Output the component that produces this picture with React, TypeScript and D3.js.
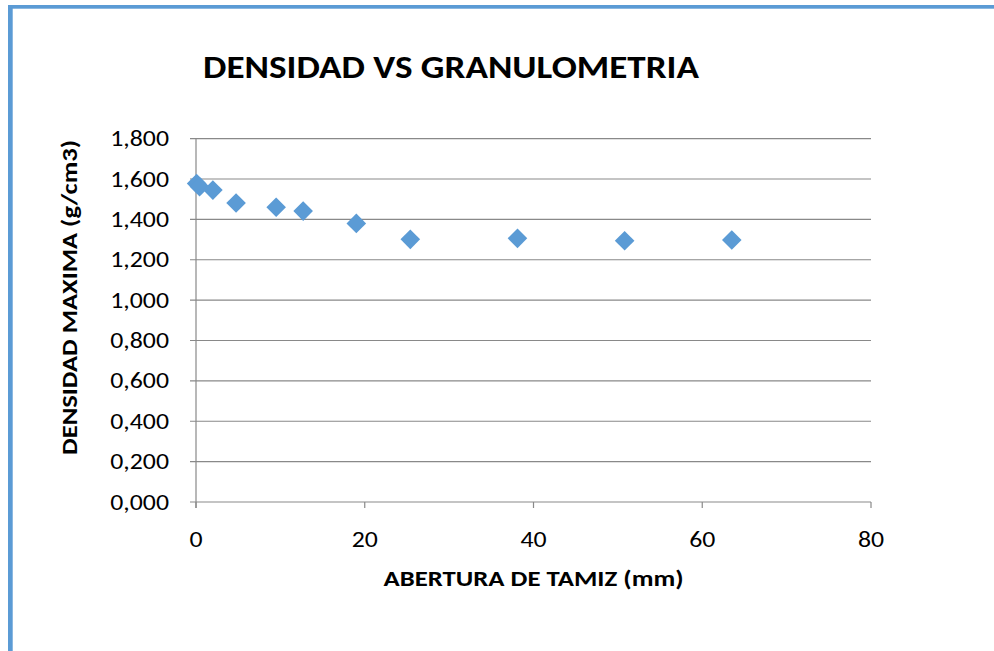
import React from "react";
import * as d3 from "d3";

const aberturaMm = [0.075, 0.425, 2.0, 4.75, 9.5, 12.7, 19.0, 25.4, 38.1, 50.8, 63.5];
const densidadMax = [1577, 1562, 1545, 1481, 1460, 1441, 1380, 1301, 1306, 1294, 1298];
const yTicks = [0, 200, 400, 600, 800, 1000, 1200, 1400, 1600, 1800];
const xTicks = [0, 20, 40, 60, 80];

const W = 994;
const H = 651;
const left = 196;
const right = 871;
const top = 138.6;
const bottom = 502;
const BLUE = "#5B9BD5";
const GRID = "#898989";
const FONT = "Carlito, Calibri, 'Open Sans', sans-serif";
const SX = 1.2;

const fmt = (v: number) => {
  const s = d3.format(",.3f")(v / 1000);
  return s.replace(".", ",");
};

export default function App() {
  const x = d3.scaleLinear().domain([0, 80]).range([left, right]);
  const y = d3.scaleLinear().domain([0, 1800]).range([bottom, top]);
  const r = 9.8;
  const diamond = (cx: number, cy: number) =>
    `M${cx},${cy - r}L${cx + r},${cy}L${cx},${cy + r}L${cx - r},${cy}Z`;

  return (
    <svg width={W} height={H} style={{ position: "absolute", left: 0, top: 0, background: "#fff" }}>
      <rect x={0} y={0} width={W} height={H} fill="#fff" />
      <rect x={8} y={5} width={4.7} height={H - 5} fill={BLUE} />
      <rect x={8} y={5} width={W - 8} height={3.7} fill={BLUE} />

      <text x={451} y={78} textAnchor="middle" fontFamily={FONT} fontWeight="bold" fontSize={33}
        textLength={496} lengthAdjust="spacingAndGlyphs" fill="#000">
        DENSIDAD VS GRANULOMETRIA
      </text>

      {yTicks.map((t) => (
        <g key={"y" + t}>
          <line x1={left - 6} x2={right} y1={y(t)} y2={y(t)} stroke={GRID} strokeWidth={1.2} />
          <text transform={`translate(169,${y(t)}) scale(${SX},1)`} dy="0.35em" textAnchor="end"
            fontFamily={FONT} fontSize={21.5} fill="#000">
            {fmt(t)}
          </text>
        </g>
      ))}
      <line x1={left} x2={left} y1={top} y2={bottom + 6} stroke={GRID} strokeWidth={1.2} />
      {xTicks.map((t) => (
        <g key={"x" + t}>
          <line x1={x(t)} x2={x(t)} y1={bottom} y2={bottom + 6} stroke={GRID} strokeWidth={1.2} />
          <text transform={`translate(${x(t)},547) scale(${SX},1)`} textAnchor="middle"
            fontFamily={FONT} fontSize={21.5} fill="#000">
            {t}
          </text>
        </g>
      ))}

      {aberturaMm.map((v, i) => (
        <path key={"p" + i} d={diamond(x(v), y(densidadMax[i]))} fill={BLUE} />
      ))}

      <text x={533.5} y={586} textAnchor="middle" fontFamily={FONT} fontWeight="bold" fontSize={21.5}
        textLength={300} lengthAdjust="spacingAndGlyphs" fill="#000">
        ABERTURA DE TAMIZ (mm)
      </text>
      <text transform="translate(77,297.5) rotate(-90)" textAnchor="middle" fontFamily={FONT} fontWeight="bold"
        fontSize={21.5} textLength={315} lengthAdjust="spacingAndGlyphs" fill="#000">
        DENSIDAD MAXIMA (g/cm3)
      </text>
    </svg>
  );
}
